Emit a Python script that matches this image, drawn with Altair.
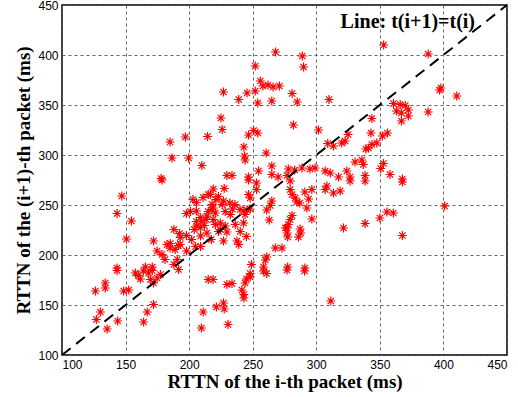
import altair as alt
import pandas as pd

x_vals = [268, 289, 290, 252, 256, 258, 262, 266, 271, 353, 388, 398,
          185, 197, 214.5, 186.5, 199.6, 210, 178,
          227, 245.5, 252, 281, 239, 254, 265, 285, 310, 225, 226, 282, 250.7, 246.7, 254, 301.7,
          243, 260.6, 243.6, 244, 325, 309, 313.5, 320, 322.7, 330.5, 324, 311, 307, 317.5, 326.6,
          265, 265, 254.6, 278, 283, 288.7, 295, 299, 277, 233.7, 229.7, 246.7, 270,
          397, 410.5, 360.7, 366, 370, 363, 367, 372.4, 372.4, 367, 388, 343.7, 343, 352, 356,
          347.6, 343.7, 341, 339, 335.8, 337, 352.8, 350.7, 338.4, 358, 367.7,
          367.7, 338.4, 401, 355.5, 360.6, 350, 338.4, 367.7,
          219, 227.6, 246.7, 253, 253, 246.7, 248, 279.5, 279.5, 281, 283.4, 284.7, 291, 296.5, 294,
          287, 292.6, 307, 308.3, 313.5, 318.8, 326.6, 265, 263.8, 261, 227, 232, 236, 234, 240, 243,
          245.5, 248, 244, 219, 220.6, 219, 224.5, 228.4, 224.5, 229.7, 227, 237.6, 239, 242.8, 263,
          281, 279.5, 278, 277, 277, 277.5, 275.7, 287.3, 287.8, 286, 296.5, 321.4, 267.7, 273, 261,
          259.9, 249, 258.5, 277.5, 291,
          178.7, 147, 143.3, 154.6, 150.7, 215, 203, 197.8, 205.7, 210, 214, 206, 188, 192.5, 172,
          182.6, 185, 189, 193, 202, 209, 214, 205, 209, 198, 174.8, 178.7, 181, 190.7, 188, 165.6,
          143.3, 171,
          143.3, 157.7, 160, 164, 168, 171, 161.7, 169.5, 174.8, 172, 177.4, 191.7, 134, 134, 126.3,
          148.5, 152.5, 172, 167, 164.2, 130.2, 127, 143.8, 135.5, 211, 209.7, 215,
          218.8, 229.7, 233.7, 244, 245, 248, 248, 241.5, 243, 243, 261, 258.5, 277, 290.8, 227,
          221.4, 227.6, 230.6, 311.4,
          205.7, 208.8, 212, 215, 218, 221, 208.8, 201, 205.7, 211, 216.7, 223, 226, 228.4,
          220.6, 223, 217.4, 232.4, 236.3, 240.2, 245, 218, 213.5, 204, 197.8, 193, 191.5, 185.2]

y_vals = [403, 399, 388, 389, 374, 369, 370, 368, 369, 410, 401, 367,
          313, 318, 318.5, 297, 297, 289.5, 276.5,
          363, 362, 364, 361.5, 355.5, 352, 354, 353, 355.5, 337, 325.5, 330, 324.5, 320, 322, 325,
          308, 302, 299, 295, 320.5, 311.5, 309, 312, 314, 293, 284, 282, 284, 278, 278,
          289, 280.5, 284, 286, 285, 287, 286, 287, 279.5, 279.5, 279.5, 278, 278,
          365, 359, 351.5, 350.5, 349.5, 344, 342, 345, 339, 334, 343, 336.5, 322, 319, 322,
          312, 310.5, 307, 306, 295, 290.5, 291.5, 286.5, 279.5, 280.5, 276,
          273, 274, 249, 243, 242, 237, 231.5, 219.5,
          266, 266.5, 275, 272, 265.5, 260.5, 257, 274, 265.5, 260.5, 257, 253, 263, 265.5, 256,
          252, 247, 265.5, 269, 262, 264, 274, 254, 249.5, 245, 254, 252, 250.5, 246, 245.5, 244,
          245, 246, 240.5, 247, 242, 235.5, 232, 229, 225.5, 223, 214, 214, 210.5, 232, 235,
          239.5, 235.5, 230.5, 227, 222, 218, 227, 226, 222, 218, 236, 227, 207, 207, 198,
          195, 190.5, 188, 188, 187,
          275, 259, 241.5, 234, 216, 260.5, 255.5, 241.5, 244, 234, 239, 229, 225.5, 221.5, 214,
          210.5, 207, 205.5, 210.5, 215.5, 219, 222, 208.5, 208.5, 204, 204, 200.5, 195.5, 195.5, 190.5, 188,
          187, 188,
          184.5, 182, 179.5, 184, 182, 184.5, 176, 175.5, 177, 172, 180.5, 185.5, 172, 167, 164,
          164, 165, 150.5, 143, 133, 143, 135.5, 134, 126, 143, 127, 175.5,
          175.5, 170.5, 171.5, 172, 176, 181.5, 178, 165, 160.5, 157, 181.5, 184, 185, 184, 152,
          148, 146, 130.5, 154,
          233.5, 227.5, 229.5, 243.5, 250.5, 255.5, 237.5, 243.5, 252.5, 257.5, 260.5, 258.5, 250.5, 243.5,
          230.5, 223.5, 215.5, 240.5, 230.5, 223.5, 218.5, 245.5, 235.5, 225.5, 219.5, 217.5, 209.5, 211.5]

df = pd.DataFrame({"x": x_vals, "y": y_vals})
line_df = pd.DataFrame({"x": [100, 450], "y": [100, 450]})
label_df = pd.DataFrame({"x": [372], "y": [433], "t": ["Line: t(i+1)=t(i)"]})

star = "M0,-1L0,1M-1,0L1,0M-0.7,-0.7L0.7,0.7M-0.7,0.7L0.7,-0.7"

xs = alt.Scale(domain=[100, 450], nice=False, zero=False)
ys = alt.Scale(domain=[100, 450], nice=False, zero=False)
ticks = [100, 150, 200, 250, 300, 350, 400, 450]

xaxis = alt.Axis(values=ticks, title="RTTN of the i-th packet (ms)", grid=True,
                 gridDash=[3, 3], gridColor="#555555", gridOpacity=0.9, gridWidth=1,
                 domain=False, ticks=False, labelFont="Liberation Sans", labelFontSize=12,
                 labelColor="black", labelPadding=4,
                 titleFont="Liberation Serif", titleFontSize=19, titleFontWeight="bold",
                 titleColor="black", titlePadding=2)
yaxis = alt.Axis(values=ticks, title="RTTN of the (i+1)-th packet (ms)", grid=True,
                 gridDash=[3, 3], gridColor="#555555", gridOpacity=0.9, gridWidth=1,
                 domain=False, ticks=False, labelFont="Liberation Sans", labelFontSize=12,
                 labelColor="black", labelPadding=4,
                 titleFont="Liberation Serif", titleFontSize=19, titleFontWeight="bold",
                 titleColor="black", titlePadding=4)

pts = alt.Chart(df).mark_point(shape=star, color="red", size=80, strokeWidth=1.2,
                               filled=False, opacity=1).encode(
    x=alt.X("x:Q", scale=xs, axis=xaxis),
    y=alt.Y("y:Q", scale=ys, axis=yaxis),
)

diag = alt.Chart(line_df).mark_line(color="black", strokeWidth=2,
                                    strokeDash=[11, 7], clip=True).encode(
    x=alt.X("x:Q", scale=xs), y=alt.Y("y:Q", scale=ys))

lbl = alt.Chart(label_df).mark_text(font="Liberation Serif", fontSize=20,
                                    fontWeight="bold", color="black").encode(
    x=alt.X("x:Q", scale=xs), y=alt.Y("y:Q", scale=ys), text="t:N")

chart = alt.layer(pts, diag, lbl).properties(
    width=445, height=350,
    padding={"left": 62, "top": 5, "right": 10, "bottom": 42},
    autosize="none",
).configure_view(stroke="black", strokeWidth=1.5)

chart.save("out.html", embed_options={"renderer": "svg", "actions": False})
